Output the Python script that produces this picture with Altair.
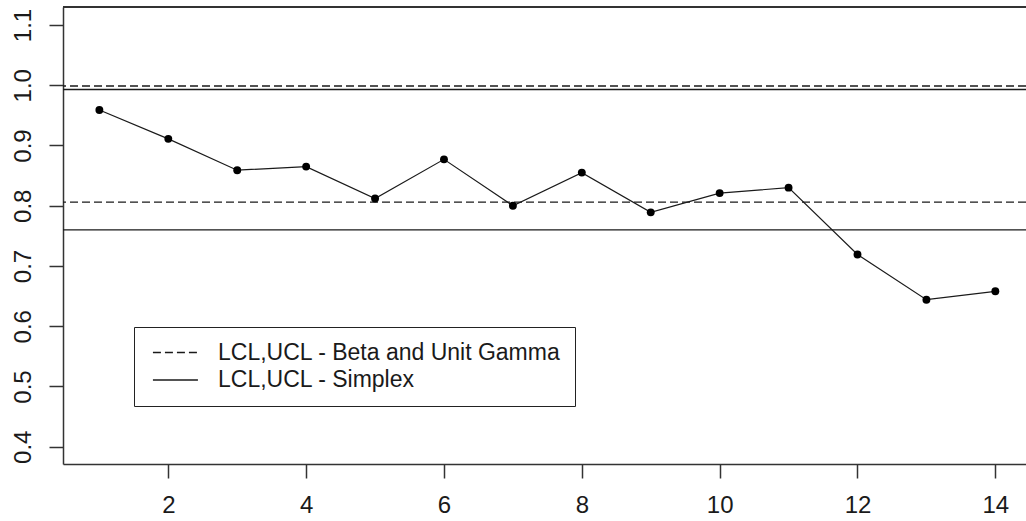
import altair as alt
import pandas as pd

# Observed statistic per sample
samples = list(range(1, 15))
values = [0.959, 0.911, 0.859, 0.865, 0.812, 0.877, 0.800,
          0.855, 0.789, 0.821, 0.830, 0.719, 0.644, 0.658]

# Control limits (LCL, UCL) for each model
limit_series = ["LCL,UCL - Beta and Unit Gamma", "LCL,UCL - Beta and Unit Gamma",
                "LCL,UCL - Simplex", "LCL,UCL - Simplex"]
limit_values = [0.806, 0.9987, 0.760, 0.993]

x_ticks = [2, 4, 6, 8, 10, 12, 14]
y_ticks = [0.4, 0.5, 0.6, 0.7, 0.8, 0.9, 1.0, 1.1]

obs = pd.DataFrame({"sample": samples, "value": values})
limits = pd.DataFrame({"series": limit_series, "limit": limit_values})

FONT = "Liberation Sans"
INK = "#1a1a1a"
W, H = 963, 457

x_scale = alt.Scale(domain=[0.472, 14.445], nice=False, zero=False)
y_scale = alt.Scale(domain=[0.3713, 1.1299], nice=False, zero=False)

x_axis = alt.Axis(values=x_ticks, title=None, grid=False, tickSize=14,
                  format="d", labelPadding=15, labelFontSize=24, labelFont=FONT,
                  labelColor=INK, domainColor="#333", tickColor="#333",
                  domainWidth=1.5, tickWidth=1.5, labelFlush=False)
y_axis = alt.Axis(values=y_ticks, title=None, grid=False, tickSize=14,
                  format=".1f", labelAngle=270, labelAlign="center",
                  labelBaseline="alphabetic", labelPadding=19,
                  labelFontSize=24, labelFont=FONT, labelColor=INK,
                  domainColor="#333", tickColor="#333",
                  domainWidth=1.5, tickWidth=1.5, labelFlush=False)

# legend key: a 45px horizontal stroke
key_path = "M-1.46,0H8.54"

limit_rules = alt.Chart(limits).mark_rule(color=INK, strokeWidth=1.4).encode(
    y=alt.Y("limit:Q", scale=y_scale, axis=y_axis),
    strokeDash=alt.StrokeDash(
        "series:N",
        scale=alt.Scale(domain=["LCL,UCL - Beta and Unit Gamma", "LCL,UCL - Simplex"],
                        range=[[8, 4], [1, 0]]),
        legend=alt.Legend(title=None, orient="none", legendX=71, legendY=320,
                          symbolType=key_path, symbolSize=81,
                          symbolStrokeWidth=1.3, symbolStrokeColor=INK,
                          labelFont=FONT, labelFontSize=23, labelColor=INK,
                          labelLimit=0, labelOffset=47, rowPadding=3.5, padding=14,
                          strokeColor="#222"),
    ),
)

trend = alt.Chart(obs).mark_line(color=INK, strokeWidth=1.2).encode(
    x=alt.X("sample:Q", scale=x_scale, axis=x_axis),
    y=alt.Y("value:Q", scale=y_scale),
)

dots = alt.Chart(obs).mark_point(filled=True, color="black", size=62, opacity=1).encode(
    x=alt.X("sample:Q", scale=x_scale),
    y=alt.Y("value:Q", scale=y_scale),
)

# top edge of the plotting frame
frame_top = alt.Chart(obs).mark_rule(color="#333", strokeWidth=1.5).encode(
    x=alt.value(0), x2=alt.value(W), y=alt.value(0)
)

chart = (
    alt.layer(limit_rules, trend, dots, frame_top)
    .properties(width=W, height=H, autosize="none",
                padding={"left": 63, "top": 7, "right": 0, "bottom": 57},
                background="white")
    .configure_view(stroke=None)
)

chart.save("out.html", embed_options={"renderer": "svg", "actions": False})
